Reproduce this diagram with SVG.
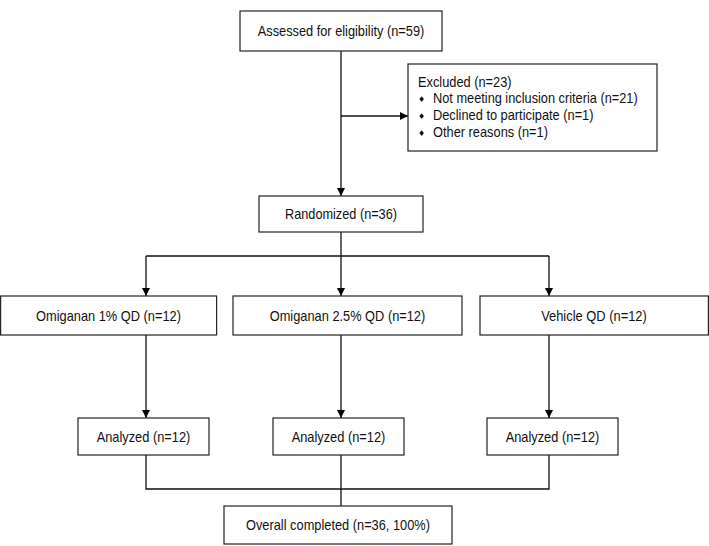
<svg xmlns="http://www.w3.org/2000/svg" width="709" height="546" viewBox="0 0 709 546">
<defs>
<marker id="arr" viewBox="0 0 10 10" refX="10" refY="5" markerWidth="8" markerHeight="8" markerUnits="userSpaceOnUse" orient="auto">
<path d="M0,0 L10,5 L0,10 z" fill="#000"/>
</marker>
<style>
.box{fill:#fff;stroke:#222;stroke-width:1.2}
.t{font-family:"Liberation Sans",Arial,sans-serif;font-size:14.5px;fill:#111}
.c{text-anchor:middle}
.ln{fill:none;stroke:#111;stroke-width:1.3}
.bl{font-family:"DejaVu Sans",sans-serif;font-size:8px;fill:#111}
</style>
</defs>
<rect width="709" height="546" fill="#fff"/>
<g id="connectors">
<path class="ln" d="M341,51 V196" marker-end="url(#arr)"/>
<path class="ln" d="M341,116 H408" marker-end="url(#arr)"/>
<path class="ln" d="M341,232 V256"/>
<path class="ln" d="M146,256 H549"/>
<path class="ln" d="M146,256 V296" marker-end="url(#arr)"/>
<path class="ln" d="M341,256 V296" marker-end="url(#arr)"/>
<path class="ln" d="M549,256 V296" marker-end="url(#arr)"/>
<path class="ln" d="M146,335 V418" marker-end="url(#arr)"/>
<path class="ln" d="M341,335 V418" marker-end="url(#arr)"/>
<path class="ln" d="M549,335 V418" marker-end="url(#arr)"/>
<path class="ln" d="M146,455 V489 H549 V455"/>
<path class="ln" d="M341,455 V506"/>
</g>
<g id="assessed">
<rect class="box" x="240" y="11" width="202" height="40"/>
<text class="t c" x="341" y="36" textLength="166.5" lengthAdjust="spacingAndGlyphs">Assessed for eligibility (n=59)</text>
</g>
<g id="excluded">
<rect class="box" x="408" y="64" width="249" height="87"/>
<text class="t" x="418" y="86.5" textLength="93.6" lengthAdjust="spacingAndGlyphs">Excluded (n=23)</text>
<text class="bl" x="418" y="101.5">♦</text>
<text class="t" x="433" y="102.5" textLength="204.7" lengthAdjust="spacingAndGlyphs">Not meeting inclusion criteria (n=21)</text>
<text class="bl" x="418" y="118.5">♦</text>
<text class="t" x="433" y="119.5" textLength="160.5" lengthAdjust="spacingAndGlyphs">Declined to participate (n=1)</text>
<text class="bl" x="418" y="135.5">♦</text>
<text class="t" x="433" y="136.5" textLength="115" lengthAdjust="spacingAndGlyphs">Other reasons (n=1)</text>
</g>
<g id="randomized">
<rect class="box" x="259" y="196" width="164" height="36"/>
<text class="t c" x="341" y="219" textLength="112" lengthAdjust="spacingAndGlyphs">Randomized (n=36)</text>
</g>
<g id="omiganan1">
<rect class="box" x="0.6" y="296" width="216" height="39"/>
<text class="t c" x="108.5" y="320.5" textLength="145" lengthAdjust="spacingAndGlyphs">Omiganan 1% QD (n=12)</text>
</g>
<g id="omiganan25">
<rect class="box" x="233" y="296" width="229" height="39"/>
<text class="t c" x="347.5" y="320.5" textLength="155.5" lengthAdjust="spacingAndGlyphs">Omiganan 2.5% QD (n=12)</text>
</g>
<g id="vehicle">
<rect class="box" x="480" y="296" width="228.4" height="39"/>
<text class="t c" x="594" y="320.5" textLength="105.7" lengthAdjust="spacingAndGlyphs">Vehicle QD (n=12)</text>
</g>
<g id="analyzed1">
<rect class="box" x="78" y="418" width="131" height="37"/>
<text class="t c" x="143.5" y="441.5" textLength="93.6" lengthAdjust="spacingAndGlyphs">Analyzed (n=12)</text>
</g>
<g id="analyzed2">
<rect class="box" x="273" y="418" width="131" height="37"/>
<text class="t c" x="338.5" y="441.5" textLength="93.6" lengthAdjust="spacingAndGlyphs">Analyzed (n=12)</text>
</g>
<g id="analyzed3">
<rect class="box" x="487" y="418" width="131" height="37"/>
<text class="t c" x="552.5" y="441.5" textLength="93.6" lengthAdjust="spacingAndGlyphs">Analyzed (n=12)</text>
</g>
<g id="overall">
<rect class="box" x="224" y="506" width="228" height="38"/>
<text class="t c" x="338" y="530" textLength="184" lengthAdjust="spacingAndGlyphs">Overall completed (n=36, 100%)</text>
</g>
</svg>
